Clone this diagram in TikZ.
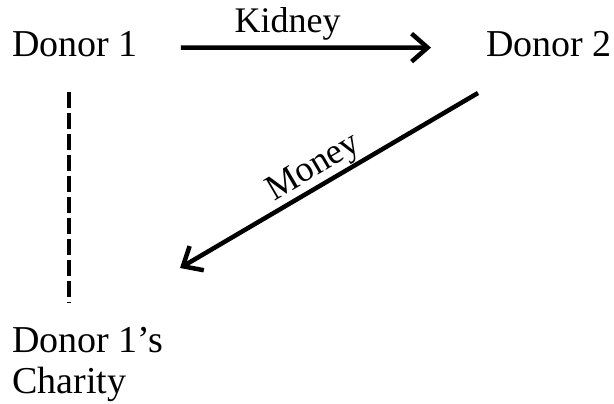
\documentclass[tikz,border=0pt]{standalone}
\usepackage{fontspec}
\setmainfont{Liberation Serif}
\usetikzlibrary{arrows.meta}
\begin{document}
\begin{tikzpicture}[
	x=1pt, y=-1pt,
	person/.style={inner sep=0pt, font=\fontsize{38}{41}\selectfont, align=left},
	gift/.style={line width=4.5pt, -{Straight Barb[length=16pt, width=28pt, line width=4.5pt]}},
	tie/.style={line width=4.5pt, dash pattern=on 16pt off 5pt},
	what/.style={inner sep=0pt, anchor=base, font=\fontsize{36}{40}\selectfont}
	]
	\useasboundingbox (0,0) rectangle (614,404);
	\node [person, anchor=base west] (d1) at (12,57) {Donor 1};
	\node [person, anchor=base east] (d2) at (612,57) {Donor 2};
	\node [person, anchor=north west] (charity) at (12,327) {Donor 1's\\Charity};
	\coordinate (m1) at (478,93);
	\coordinate (m2) at (180,268);
	% kidney goes one way, money the other
	\draw [gift, shorten <=43pt, shorten >=55pt] ([yshift=-3pt]d1.east) -- ([yshift=-3pt]d2.west)
		node [what, pos=0.43, yshift=15pt] (kid) {Kidney};
	\draw [gift] (m1) -- (m2)
		node [what, sloped, pos=0.52, yshift=10pt] (mon) {Money};
	\draw [tie, shorten <=34pt, shorten >=24pt] ([xshift=-6pt]d1.south) -- ([xshift=-6pt]d1.south |- charity.north);
\end{tikzpicture}
\end{document}
